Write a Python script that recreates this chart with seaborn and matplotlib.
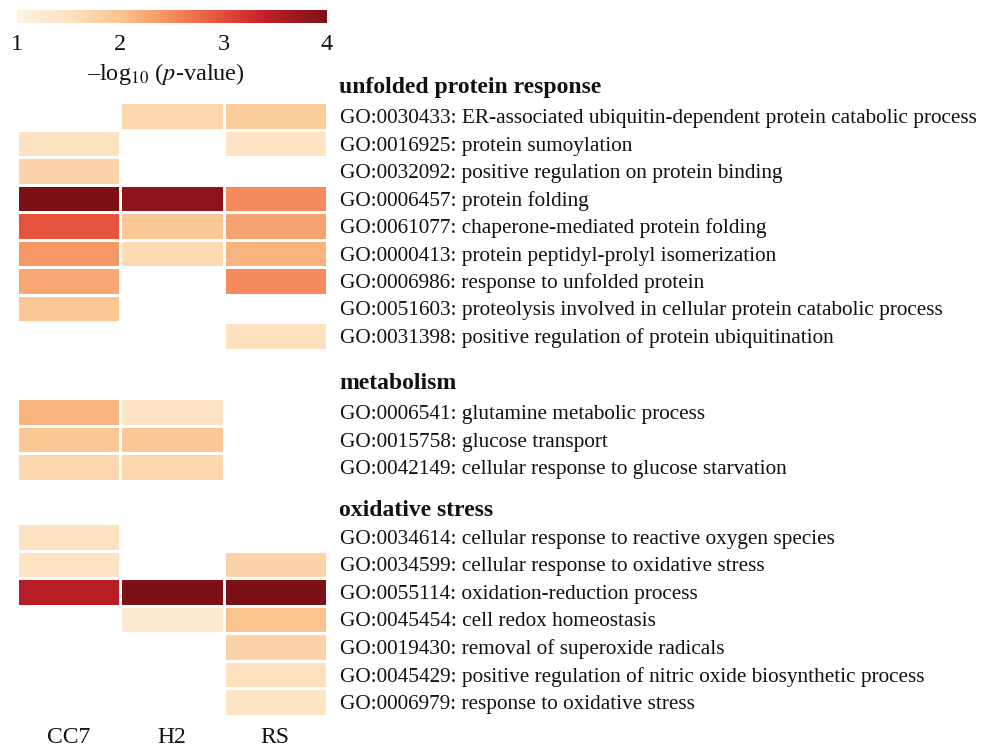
import numpy as np
import pandas as pd
import matplotlib
matplotlib.use("Agg")
import matplotlib.pyplot as plt
from matplotlib.colors import LinearSegmentedColormap
import seaborn as sns

sns.set_style("white")
plt.rcParams["font.family"] = ["Liberation Serif", "DejaVu Serif"]
plt.rcParams["mathtext.fontset"] = "stix"

samples = ["CC7", "H2", "RS"]

group_names = ["unfolded protein response", "metabolism", "oxidative stress"]

upr_terms = [
    "GO:0030433: ER-associated ubiquitin-dependent protein catabolic process",
    "GO:0016925: protein sumoylation",
    "GO:0032092: positive regulation on protein binding",
    "GO:0006457: protein folding",
    "GO:0061077: chaperone-mediated protein folding",
    "GO:0000413: protein peptidyl-prolyl isomerization",
    "GO:0006986: response to unfolded protein",
    "GO:0051603: proteolysis involved in cellular protein catabolic process",
    "GO:0031398: positive regulation of protein ubiquitination",
]
upr_cc7 = [np.nan, 1.5, 1.75, 4.0, 2.95, 2.4, 2.25, 1.95, np.nan]
upr_h2 = [1.7, np.nan, np.nan, 3.85, 1.95, 1.65, np.nan, np.nan, np.nan]
upr_rs = [1.9, 1.45, np.nan, 2.5, 2.3, 2.15, 2.5, np.nan, 1.55]

met_terms = [
    "GO:0006541: glutamine metabolic process",
    "GO:0015758: glucose transport",
    "GO:0042149: cellular response to glucose starvation",
]
met_cc7 = [2.15, 1.95, 1.7]
met_h2 = [1.45, 1.95, 1.7]
met_rs = [np.nan, np.nan, np.nan]

ox_terms = [
    "GO:0034614: cellular response to reactive oxygen species",
    "GO:0034599: cellular response to oxidative stress",
    "GO:0055114: oxidation-reduction process",
    "GO:0045454: cell redox homeostasis",
    "GO:0019430: removal of superoxide radicals",
    "GO:0045429: positive regulation of nitric oxide biosynthetic process",
    "GO:0006979: response to oxidative stress",
]
ox_cc7 = [1.5, 1.45, 3.5, np.nan, np.nan, np.nan, np.nan]
ox_h2 = [np.nan, np.nan, 4.0, 1.3, np.nan, np.nan, np.nan]
ox_rs = [np.nan, 1.75, 4.0, 2.0, 1.75, 1.55, 1.45]

cbar_ticks = [1, 2, 3, 4]

groups = [
    (upr_terms, upr_cc7, upr_h2, upr_rs),
    (met_terms, met_cc7, met_h2, met_rs),
    (ox_terms, ox_cc7, ox_h2, ox_rs),
]

cmap = LinearSegmentedColormap.from_list(
    "ref_orrd",
    [(0.0, "#fdf2e4"), (0.17, "#fde2c0"), (0.33, "#fbc590"), (0.5, "#f58c5c"),
     (0.66, "#e4503a"), (0.8, "#c21f28"), (1.0, "#7c1216")])

W, H = 981, 748
fig = plt.figure(figsize=(W / 100, H / 100), dpi=100)

def fx(px):
    return px / W

def fy(py):
    return 1 - py / H

pitch = 27.5
tops = [102.25, 398.25, 523.25]
header_y = [88, 383, 510]
x0, x1 = 17, 327
fs = 15.3
ink = "#111111"

mappable = None
for gi, (terms, cc7, h2, rs) in enumerate(groups):
    df = pd.DataFrame({"CC7": cc7, "H2": h2, "RS": rs}, index=terms)
    n = len(terms)
    top = tops[gi]
    bottom = top + n * pitch
    ax = fig.add_axes([fx(x0), fy(bottom), fx(x1 - x0), (bottom - top) / H])
    sns.heatmap(df, ax=ax, cmap=cmap, vmin=1, vmax=4, cbar=False,
                linewidths=0.8, linecolor="white", square=False)
    mappable = ax.collections[0]
    ax.yaxis.tick_right()
    ax.set_yticks(np.arange(n) + 0.5)
    ax.set_yticklabels(terms, rotation=0, ha="left", fontsize=fs, color=ink)
    ax.tick_params(axis="y", length=0, pad=9)
    if gi == 2:
        ax.set_xticks(np.arange(3) + 0.5)
        ax.set_xticklabels(samples, fontsize=17, color=ink)
        ax.tick_params(axis="x", length=0, pad=8)
    else:
        ax.set_xticks([])
    ax.set_xlabel("")
    ax.set_ylabel("")
    for s in ax.spines.values():
        s.set_visible(False)
    fig.text(fx(339), fy(header_y[gi]), group_names[gi], fontsize=17,
             fontweight="bold", va="center", ha="left", color=ink)

cax = fig.add_axes([fx(x0), fy(23), fx(x1 - x0), 13 / H])
cb = fig.colorbar(mappable, cax=cax, orientation="horizontal", ticks=cbar_ticks)
cb.outline.set_visible(False)
cax.tick_params(length=0, pad=8, labelsize=17.5, colors=ink)
cax.set_xticklabels([str(t) for t in cbar_ticks])
fig.text(fx(166), fy(74), r"–log$_{10}$ ($p$-value)", fontsize=17.5,
         ha="center", va="center", color=ink)

fig.savefig("out.png", dpi=100)
